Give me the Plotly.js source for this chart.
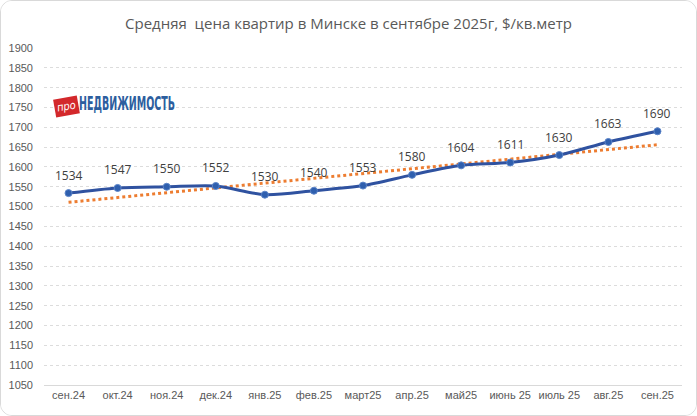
<!DOCTYPE html>
<html>
<head>
<meta charset="utf-8">
<script src="https://cdn.plot.ly/plotly-3.0.1.min.js"></script>
<style>
  html, body { margin: 0; padding: 0; background: #fff; }
  #chart {
    width: 697px; height: 416px; box-sizing: border-box;
    border: 1px solid #d9d9d9; border-radius: 12px; overflow: hidden;
  }
</style>
</head>
<body>
<div id="chart"></div>
<script>
// средняя цена, $/кв.м
const months = ["сен.24", "окт.24", "ноя.24", "дек.24", "янв.25", "фев.25", "март25",
                "апр.25", "май25", "июнь 25", "июль 25", "авг.25", "сен.25"];
const prices = [1534, 1547, 1550, 1552, 1530, 1540, 1553, 1580, 1604, 1611, 1630, 1663, 1690];
const yTicks = [1050, 1100, 1150, 1200, 1250, 1300, 1350, 1400, 1450, 1500,
                1550, 1600, 1650, 1700, 1750, 1800, 1850, 1900];

// линейный тренд, как в Excel
function linearTrend(ys) {
    const n = ys.length;
    const mx = (n - 1) / 2;
    const my = ys.reduce((a, b) => a + b, 0) / n;
    let sxy = 0, sxx = 0;
    ys.forEach((y, i) => { sxy += (i - mx) * (y - my); sxx += (i - mx) * (i - mx); });
    const k = sxy / sxx;
    return ys.map((y, i) => my + k * (i - mx));
}

const node = document.getElementById("chart");
const data = [
    {
        x: months,
        y: linearTrend(prices),
        type: "scatter",
        mode: "lines",
        line: {color: "#ed7d31", width: 3, dash: "dot"},
        hoverinfo: "skip"
    },
    {
        x: months,
        y: prices,
        type: "scatter",
        mode: "lines+markers",
        line: {color: "#2f52a0", width: 3, shape: "spline", smoothing: 0.8},
        marker: {size: 7, color: "#2f5fae", line: {color: "#5b84c8", width: 1}}
    }
];

const labels = months.map((m, i) => ({
    x: m, y: prices[i], text: String(prices[i]),
    showarrow: false, yshift: 18,
    font: {family: "Open Sans, sans-serif", size: 12, color: "#404040"}
}));

const layout = {
    width: 695,
    height: 414,
    showlegend: false,
    paper_bgcolor: "#fff",
    plot_bgcolor: "#fff",
    margin: {l: 43, r: 14, t: 47, b: 30},
    title: {
        text: "Средняя  цена квартир в Минске в сентябре 2025г, $/кв.метр",
        x: 0.5, xanchor: "center", y: 0.945, yanchor: "middle",
        font: {family: "Open Sans, sans-serif", size: 15, color: "#595959"}
    },
    xaxis: {
        type: "category",
        range: [-0.5, 12.5],
        showgrid: false,
        showline: true,
        linecolor: "#d9d9d9",
        linewidth: 1,
        ticks: "",
        tickfont: {family: "Liberation Sans, sans-serif", size: 11, color: "#595959"},
        fixedrange: true
    },
    yaxis: {
        range: [1050, 1900],
        tickvals: yTicks,
        showgrid: true,
        gridcolor: "#dcdcdc",
        griddash: "dot",
        zeroline: false,
        showline: false,
        ticks: "",
        ticklabelstandoff: 10,
        tickfont: {family: "Liberation Sans, sans-serif", size: 11, color: "#595959"},
        fixedrange: true
    },
    annotations: labels.concat([
        {
            xref: "paper", yref: "paper", x: 0.0135, y: 0.826,
            xanchor: "left", yanchor: "middle", showarrow: false,
            text: "<i>про</i>", textangle: -10,
            bgcolor: "#d3282b", borderpad: 2,
            font: {family: "DejaVu Sans Condensed, sans-serif", size: 11, color: "#fff"}
        },
        {
            xref: "paper", yref: "paper", x: 0.052, y: 0.836,
            xanchor: "left", yanchor: "middle", showarrow: false,
            text: "<b>НЕДВИЖИМОСТЬ</b>",
            font: {family: "DejaVu Sans Condensed, sans-serif", size: 19, color: "#2c5e9e"}
        }
    ])
};

Plotly.newPlot(node, data, layout, {displayModeBar: false, staticPlot: true}).then(gd => {
    // логотип набран очень узким шрифтом — сжимаем по горизонтали
    gd.querySelectorAll("text.annotation-text").forEach(t => {
        if (t.textContent !== "НЕДВИЖИМОСТЬ") return;
        const bb = t.getBBox();
        const s = 96 / bb.width;
        t.setAttribute("transform",
            "translate(" + bb.x + ",0) scale(" + s + ",1) translate(" + (-bb.x) + ",0)");
    });
});
</script>
</body>
</html>
